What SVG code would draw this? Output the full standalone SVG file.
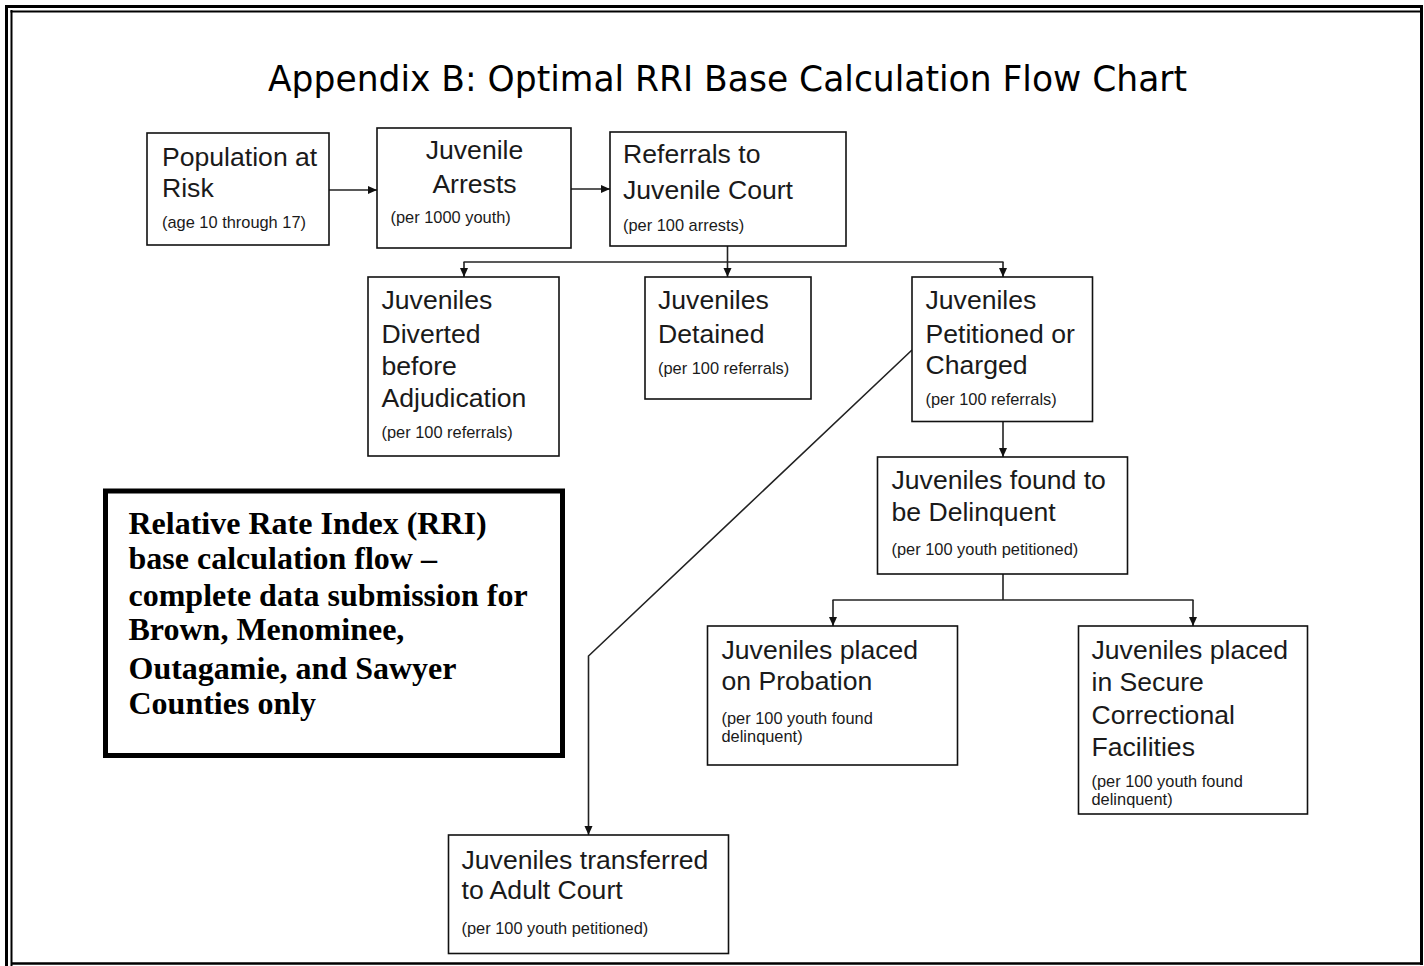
<svg xmlns="http://www.w3.org/2000/svg" width="1424" height="966" viewBox="0 0 1424 966">
<style>
.frame{stroke:#000;fill:none}
.box{fill:#fff;stroke:#111;stroke-width:1.6}
.t{font-family:"Liberation Sans",Arial,sans-serif;font-size:26.6px;fill:#1a1a1a}
.s{font-family:"Liberation Sans",Arial,sans-serif;font-size:16.4px;fill:#1a1a1a}
.c{text-anchor:middle}
.conn{stroke:#222;stroke-width:1.6;fill:none}
.title{font-family:"DejaVu Sans Condensed","DejaVu Sans",sans-serif;font-size:35px;fill:#000}
.rri{font-family:"Liberation Serif","Times New Roman",serif;font-size:32px;font-weight:bold;fill:#000}
</style>
<defs>
<marker id="arr" markerUnits="userSpaceOnUse" markerWidth="10" markerHeight="10" refX="9" refY="5" orient="auto">
<path d="M0,1 L9,5 L0,9 z" fill="#111"/>
</marker>
</defs>
<rect width="1424" height="966" fill="#fff"/>
<g id="frame">
<line class="frame" x1="6.5" y1="5" x2="6.5" y2="966" stroke-width="3"/>
<line class="frame" x1="11.5" y1="10" x2="11.5" y2="966" stroke-width="2"/>
<line class="frame" x1="5" y1="6.5" x2="1423" y2="6.5" stroke-width="3"/>
<line class="frame" x1="10.5" y1="11.5" x2="1420" y2="11.5" stroke-width="2"/>
<line class="frame" x1="1421.5" y1="5" x2="1421.5" y2="965" stroke-width="3"/>
<line class="frame" x1="11" y1="963.5" x2="1423" y2="963.5" stroke-width="2.5"/>
</g>
<text class="title" x="268" y="91" textLength="919" lengthAdjust="spacingAndGlyphs">Appendix B: Optimal RRI Base Calculation Flow Chart</text>
<g id="connectors">
<line class="conn" x1="329" y1="190" x2="377" y2="190" marker-end="url(#arr)"/>
<line class="conn" x1="571" y1="189" x2="610" y2="189" marker-end="url(#arr)"/>
<line class="conn" x1="727.5" y1="246" x2="727.5" y2="262"/>
<line class="conn" x1="463.5" y1="262" x2="1003.5" y2="262"/>
<line class="conn" x1="464" y1="262" x2="464" y2="277" marker-end="url(#arr)"/>
<line class="conn" x1="727.5" y1="262" x2="727.5" y2="277" marker-end="url(#arr)"/>
<line class="conn" x1="1003" y1="262" x2="1003" y2="277" marker-end="url(#arr)"/>
<line class="conn" x1="1003" y1="422" x2="1003" y2="457" marker-end="url(#arr)"/>
<line class="conn" x1="1003" y1="574" x2="1003" y2="600"/>
<line class="conn" x1="832.5" y1="600" x2="1193.5" y2="600"/>
<line class="conn" x1="833" y1="600" x2="833" y2="626" marker-end="url(#arr)"/>
<line class="conn" x1="1193" y1="600" x2="1193" y2="626" marker-end="url(#arr)"/>
<polyline class="conn" points="912,350 588.5,656 588.5,835" marker-end="url(#arr)"/>
</g>
<g id="population">
<rect class="box" x="147" y="133" width="182" height="112"/>
<text class="t" x="162" y="166">Population at</text>
<text class="t" x="162" y="197">Risk</text>
<text class="s" x="162" y="228">(age 10 through 17)</text>
</g>
<g id="arrests">
<rect class="box" x="377" y="128" width="194" height="120"/>
<text class="t c" x="474.5" y="159">Juvenile</text>
<text class="t c" x="474.5" y="193">Arrests</text>
<text class="s" x="390.5" y="223">(per 1000 youth)</text>
</g>
<g id="referrals">
<rect class="box" x="610" y="132" width="236" height="114"/>
<text class="t" x="623" y="163">Referrals to</text>
<text class="t" x="623" y="199">Juvenile Court</text>
<text class="s" x="623" y="231">(per 100 arrests)</text>
</g>
<g id="diverted">
<rect class="box" x="368" y="277" width="191" height="179"/>
<text class="t" x="381.5" y="309">Juveniles</text>
<text class="t" x="381.5" y="342.5">Diverted</text>
<text class="t" x="381.5" y="374.5">before</text>
<text class="t" x="381.5" y="406.5">Adjudication</text>
<text class="s" x="381.5" y="438">(per 100 referrals)</text>
</g>
<g id="detained">
<rect class="box" x="645" y="277" width="166" height="122"/>
<text class="t" x="658" y="309">Juveniles</text>
<text class="t" x="658" y="342.5">Detained</text>
<text class="s" x="658" y="373.5">(per 100 referrals)</text>
</g>
<g id="petitioned">
<rect class="box" x="912" y="277" width="180.5" height="144.5"/>
<text class="t" x="925.5" y="309">Juveniles</text>
<text class="t" x="925.5" y="342.5">Petitioned or</text>
<text class="t" x="925.5" y="373.5">Charged</text>
<text class="s" x="925.5" y="405">(per 100 referrals)</text>
</g>
<g id="delinquent">
<rect class="box" x="877.5" y="457" width="250" height="117"/>
<text class="t" x="891.5" y="488.5">Juveniles found to</text>
<text class="t" x="891.5" y="520.5">be Delinquent</text>
<text class="s" x="891.5" y="555">(per 100 youth petitioned)</text>
</g>
<g id="probation">
<rect class="box" x="707.5" y="626" width="250" height="139"/>
<text class="t" x="721.5" y="658.5">Juveniles placed</text>
<text class="t" x="721.5" y="690">on Probation</text>
<text class="s" x="721.5" y="723.5">(per 100 youth found</text>
<text class="s" x="721.5" y="741.5">delinquent)</text>
</g>
<g id="secure">
<rect class="box" x="1078.5" y="626" width="229" height="188"/>
<text class="t" x="1091.5" y="658.5">Juveniles placed</text>
<text class="t" x="1091.5" y="690.5">in Secure</text>
<text class="t" x="1091.5" y="723.5">Correctional</text>
<text class="t" x="1091.5" y="755.5">Facilities</text>
<text class="s" x="1091.5" y="786.5">(per 100 youth found</text>
<text class="s" x="1091.5" y="805">delinquent)</text>
</g>
<g id="transferred">
<rect class="box" x="448.5" y="835" width="280" height="118.5"/>
<text class="t" x="461.5" y="868.5">Juveniles transferred</text>
<text class="t" x="461.5" y="898.5">to Adult Court</text>
<text class="s" x="461.5" y="933.5">(per 100 youth petitioned)</text>
</g>
<g id="rri-note">
<rect x="105.5" y="491" width="457" height="264.5" fill="#fff" stroke="#000" stroke-width="5"/>
<text class="rri" x="128.5" y="533.5">Relative Rate Index (RRI)</text>
<text class="rri" x="128.5" y="568.5">base calculation flow –</text>
<text class="rri" x="128.5" y="606">complete data submission for</text>
<text class="rri" x="128.5" y="640">Brown, Menominee,</text>
<text class="rri" x="128.5" y="678.5">Outagamie, and Sawyer</text>
<text class="rri" x="128.5" y="713.5">Counties only</text>
</g>
</svg>
